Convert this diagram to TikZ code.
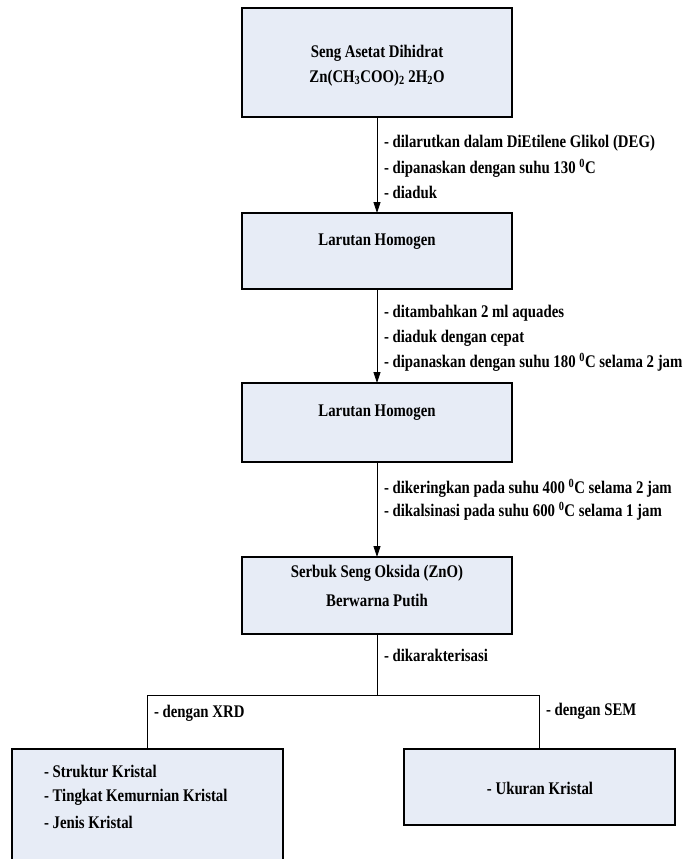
\documentclass[tikz,border=0pt]{standalone}
\usepackage{fontspec}
\setmainfont{Liberation Serif}
\usetikzlibrary{arrows.meta}
\definecolor{boxfill}{RGB}{231,236,246}
\newcommand{\tallt}[1]{\scalebox{1.0}[1.2]{#1}}
\begin{document}
\begin{tikzpicture}[x=1pt,y=-1pt,
  txt/.style={font=\fontsize{14.8}{17}\selectfont\bfseries, inner sep=0pt, outer sep=0pt},
  lab/.style={txt, anchor=west},
  boxnode/.style={draw=black, line width=1.1pt, fill=boxfill, inner sep=0pt, outer sep=0pt, minimum width=270pt},
  conn/.style={draw=black, line width=0.8pt},
  arr/.style={conn, -{Triangle[length=11pt,width=7pt]}}]
\useasboundingbox (0,0) rectangle (686,859);
% boxes
\node[boxnode, minimum height=109pt] (b1) at (377,62.5) {};
\node[boxnode, minimum height=76pt] (b2) at (377,251) {};
\node[boxnode, minimum height=79pt] (b3) at (377,422.5) {};
\node[boxnode, minimum height=77pt] (b4) at (377,595.5) {};
\node[boxnode, minimum width=271pt, minimum height=113pt] (lb) at (147.5,805.5) {};
\node[boxnode, minimum width=271pt, minimum height=76pt] (rb) at (539.5,787) {};
% box texts
\node[txt] (t1a) at (377,53) {\tallt{Seng Asetat Dihidrat}};
\node[txt] (t1b) at (377,78) {\tallt{Zn(CH\textsubscript{3}COO)\textsubscript{2} 2H\textsubscript{2}O}};
\node[txt] (t2) at (377,242) {\tallt{Larutan Homogen}};
\node[txt] (t3) at (377,413) {\tallt{Larutan Homogen}};
\node[txt] (t4a) at (377,573) {\tallt{Serbuk Seng Oksida (ZnO)}};
\node[txt] (t4b) at (377,600) {\tallt{Berwarna Putih}};
\node[lab] (l1) at (44,771) {\tallt{- Struktur Kristal}};
\node[lab] (l2) at (44,797) {\tallt{- Tingkat Kemurnian Kristal}};
\node[lab] (l3) at (44,822) {\tallt{- Jenis Kristal}};
\node[txt] (r1) at (540,788) {\tallt{- Ukuran Kristal}};
% connectors
\draw[arr] (b1.south) -- (b2.north);
\draw[arr] (b2.south) -- (b3.north);
\draw[arr] (b3.south) -- (b4.north);
\coordinate (j) at (377,695);
\draw[conn] (b4.south) -- (j);
\draw[conn] (j) -| (lb.north);
\draw[conn] (j) -| (rb.north);
% step labels
\node[lab] (s1a) at (384,143) {\tallt{- dilarutkan dalam DiEtilene Glikol (DEG)}};
\node[lab] (s1b) at (384,168) {\tallt{- dipanaskan dengan suhu 130 \textsuperscript{0}C}};
\node[lab] (s1c) at (384,192) {\tallt{- diaduk}};
\node[lab] (s2a) at (384,313) {\tallt{- ditambahkan 2 ml aquades}};
\node[lab] (s2b) at (384,338) {\tallt{- diaduk dengan cepat}};
\node[lab] (s2c) at (384,362) {\tallt{- dipanaskan dengan suhu 180 \textsuperscript{0}C selama 2 jam}};
\node[lab] (s3a) at (384,488) {\tallt{- dikeringkan pada suhu 400 \textsuperscript{0}C selama 2 jam}};
\node[lab] (s3b) at (384,511) {\tallt{- dikalsinasi pada suhu 600 \textsuperscript{0}C selama 1 jam}};
\node[lab] (s4) at (384,655) {\tallt{- dikarakterisasi}};
\node[lab] (sx) at (154,713) {\tallt{- dengan XRD}};
\node[lab] (ss) at (546,711) {\tallt{- dengan SEM}};
\end{tikzpicture}
\end{document}
